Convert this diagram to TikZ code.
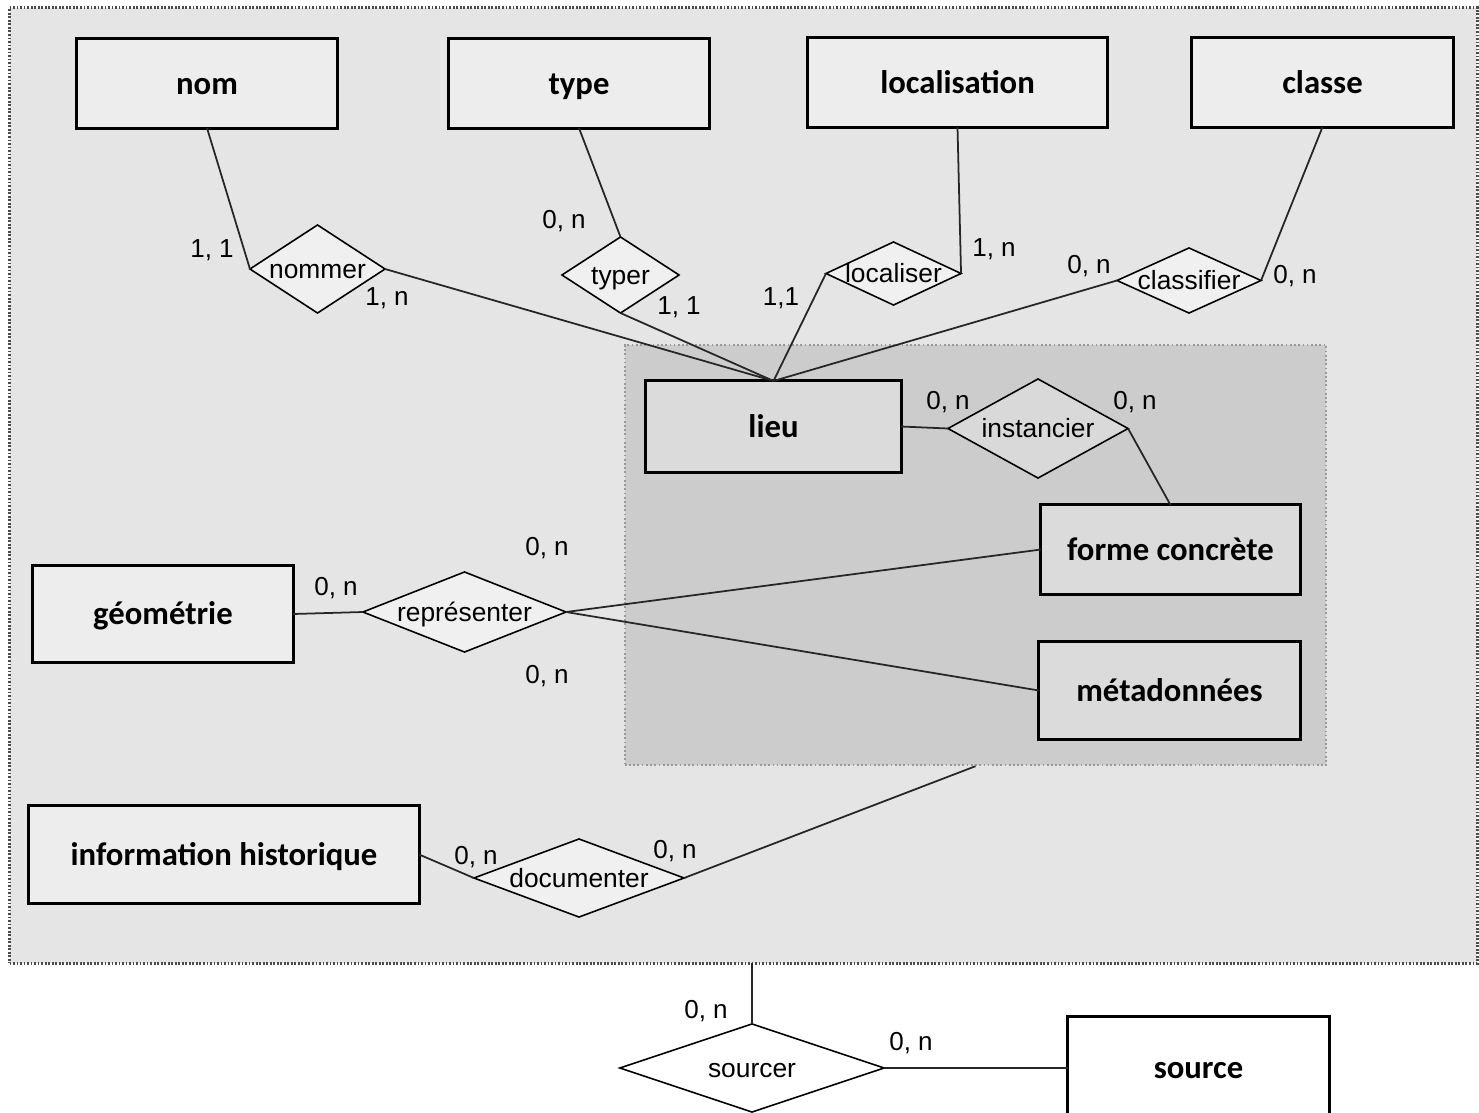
\documentclass[tikz,border=0pt]{standalone}
\usepackage{tikz,tkz-graph}
\usetikzlibrary{positioning}
\usetikzlibrary{shapes.geometric}
\usepackage{fontspec}
\newfontfamily\entfont{Carlito}
\newfontfamily\relfont{Liberation Sans}
\newcommand{\rlab}[1]{\makebox[0pt]{#1}}
\definecolor{zoneext}{gray}{0.90}
\definecolor{zoneint}{gray}{0.80}
\definecolor{entext}{gray}{0.93}
\definecolor{entint}{gray}{0.86}
\definecolor{relext}{gray}{0.94}
\definecolor{relint}{gray}{0.85}

\begin{document}
\begin{tikzpicture}[x = 0.01cm, y = -0.01cm]
\SetVertexNoMath
\tikzstyle{VertexStyle} = []
\tikzstyle{EdgeStyle} = [line width=0.5pt, color=black!85]
\tikzstyle{LabelStyle} = [fill=none, draw=none, inner sep=0pt]
\tikzstyle{cadre} = [shape = rectangle, draw = black!70, fill = zoneext, line width = 0.8pt, dash pattern = on 0.5pt off 0.5pt, minimum width = 14.67cm, minimum height = 9.55cm]
\tikzstyle{zone} = [shape = rectangle, draw = black!40, fill = zoneint, line width = 0.6pt, dash pattern = on 0.5pt off 0.7pt, minimum width = 7.01cm, minimum height = 4.20cm]
\tikzstyle{entite} = [shape = rectangle, draw, line width = 0.85pt, fill = entext, inner sep = 0pt, minimum width = 2.6cm, minimum height = 0.89cm, text height = 1.8ex, text depth = 0.4ex, font = \entfont\bfseries\fontsize{9.3}{11}\selectfont]
\tikzstyle{entiteint} = [entite, fill = entint]
\tikzstyle{relation} = [shape = diamond, draw, line width = 0.45pt, fill = relext, inner sep = 0pt, text height = 1.5ex, text depth = 0.3ex, font = \relfont\fontsize{7.5}{9}\selectfont]
\tikzstyle{card} = [inner sep = 0pt, text height = 1.5ex, text depth = 0.3ex, font = \relfont\fontsize{7.4}{9}\selectfont]
\useasboundingbox[fill = white] (0,0) rectangle (1479,1112);
\node[cadre] (cadre) at (743.5,485.5) {};
\node[zone] (zone) at (975.5,555) {};
\coordinate (cadrebas) at (752,963);
\Vertex[style = entite, x = 207, y = 83.5, L = nom]{nom}
\Vertex[style = entite, x = 579, y = 83.5, L = type]{type}
\Vertex[style = {entite, minimum width = 2.99cm}, x = 957.5, y = 82.5, L = localisation]{localisation}
\Vertex[style = {entite, minimum width = 2.61cm}, x = 1322.5, y = 82.5, L = classe]{classe}
\Vertex[style = {entiteint, minimum width = 2.55cm, minimum height = 0.91cm}, x = 773.5, y = 426.5, L = lieu]{lieu}
\Vertex[style = {entiteint, minimum width = 2.59cm}, x = 1170.5, y = 549.5, L = forme concrète]{forme}
\Vertex[style = {entiteint, minimum width = 2.61cm, minimum height = 0.97cm}, x = 1169.5, y = 690.5, L = métadonnées]{meta}
\Vertex[style = {entite, minimum height = 0.96cm}, x = 163, y = 614, L = géométrie]{geometrie}
\Vertex[style = {entite, minimum width = 3.90cm, minimum height = 0.97cm}, x = 224, y = 854.5, L = information historique]{info}
\Vertex[style = {entite, fill = white, minimum width = 2.61cm, minimum height = 1.02cm}, x = 1198.5, y = 1068, L = source]{source}
\Vertex[style = {relation, minimum width = 1.35cm, minimum height = 0.88cm}, x = 317.5, y = 269, L = \rlab{nommer}]{nommer}
\Vertex[style = {relation, minimum width = 1.17cm, minimum height = 0.76cm}, x = 620.5, y = 275, L = \rlab{typer}]{typer}
\Vertex[style = {relation, minimum width = 1.35cm, minimum height = 0.63cm}, x = 893.5, y = 273.5, L = \rlab{localiser}]{localiser}
\Vertex[style = {relation, minimum width = 1.44cm, minimum height = 0.65cm}, x = 1189, y = 280.5, L = \rlab{classifier}]{classifier}
\Vertex[style = {relation, fill = relint, minimum width = 1.80cm, minimum height = 0.99cm}, x = 1038, y = 428.5, L = \rlab{instancier}]{instancier}
\Vertex[style = {relation, minimum width = 2.03cm, minimum height = 0.80cm}, x = 464.5, y = 612, L = \rlab{représenter}]{representer}
\Vertex[style = {relation, minimum width = 2.10cm, minimum height = 0.78cm}, x = 579, y = 878, L = \rlab{documenter}]{documenter}
\Vertex[style = {relation, fill = white, minimum width = 2.64cm, minimum height = 0.88cm}, x = 752, y = 1068, L = \rlab{sourcer}]{sourcer}
\Edge(nom.south)(nommer.west)
\Edge(nommer.east)(lieu.north)
\Edge(type.south)(typer.north)
\Edge(typer.south)(lieu.north)
\Edge(localisation.south)(localiser.east)
\Edge(localiser.west)(lieu.north)
\Edge(classe.south)(classifier.east)
\Edge(classifier.west)(lieu.north)
\Edge(lieu.east)(instancier.west)
\Edge(instancier.east)(forme.north)
\Edge(geometrie.east)(representer.west)
\Edge(representer.east)(forme.west)
\Edge(representer.east)(meta.west)
\Edge(info.east)(documenter.west)
\Edge(documenter.east)(zone.south)
\Edge(cadrebas)(sourcer.north)
\Edge(sourcer.east)(source.west)
\node[card] (k1) at (212,248) {1, 1};
\node[card] (k2) at (387,296) {1, n};
\node[card] (k3) at (564,219) {0, n};
\node[card] (k4) at (679,305) {1, 1};
\node[card] (k5) at (781,296) {1,1};
\node[card] (k6) at (994,247) {1, n};
\node[card] (k7) at (1089,264) {0, n};
\node[card] (k8) at (1295,274) {0, n};
\node[card] (k9) at (948,400) {0, n};
\node[card] (k10) at (1135,400) {0, n};
\node[card] (k11) at (547,546) {0, n};
\node[card] (k12) at (336,586) {0, n};
\node[card] (k13) at (547,674) {0, n};
\node[card] (k14) at (476,855) {0, n};
\node[card] (k15) at (675,849) {0, n};
\node[card] (k16) at (706,1009) {0, n};
\node[card] (k17) at (911,1041) {0, n};
\end{tikzpicture}
\end{document}
